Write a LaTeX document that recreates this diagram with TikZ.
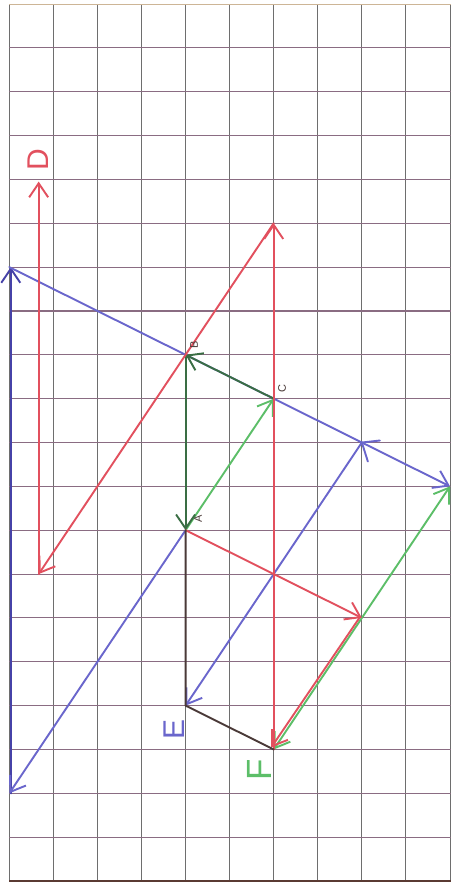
\documentclass[tikz,border=0pt]{standalone}
\usepackage{fontspec}
\setmainfont{Liberation Sans}
\usetikzlibrary{arrows.meta}
\definecolor{gridv}{HTML}{6E6E6E}
\definecolor{gridh}{HTML}{8A6C82}
\definecolor{gridtop}{HTML}{CDB596}
\definecolor{gridbot}{HTML}{5A3A32}
\definecolor{penred}{HTML}{E2505E}
\definecolor{penblue}{HTML}{6A66CC}
\definecolor{pendblue}{HTML}{4642A8}
\definecolor{pengreen}{HTML}{5CBE68}
\definecolor{pendgreen}{HTML}{3A6E44}
\definecolor{penblack}{HTML}{4A3A38}
\begin{document}
\begin{tikzpicture}[x=1pt,y=-1pt,
  pen/.style={line width=1.9pt, line cap=round, line join=round},
  tip/.style={-{Straight Barb[length=14pt,width=19pt]}},
  tiptwo/.style={{Straight Barb[length=14pt,width=19pt]}-{Straight Barb[length=14pt,width=19pt]}},
  lab/.style={rotate=90, inner sep=0pt, font=\fontsize{30}{30}\selectfont},
  smalllab/.style={rotate=90, inner sep=0pt, font=\fontsize{11}{11}\selectfont, text=penblack}]
\useasboundingbox[fill=white] (0,0) rectangle (450,886);
\begin{scope}[shift={(9.3pt,-4pt)}, x=44.07pt, y=-43.85pt]
  % grid
  \foreach \i in {0,...,10} \draw[gridv, line width=1pt] (\i,0) -- (\i,20);
  \draw[gridtop, line width=0.8pt] (0,0) -- (10.3,0);
  \foreach \j in {1,...,19} \draw[gridh, line width=1.1pt] (0,\j) -- (10.3,\j);
  \draw[gridbot, line width=2pt] (0,20) -- (10.3,20);
  % points
  \coordinate (P6) at (0,6);
  \coordinate (P18) at (0,18);
  \coordinate (B) at (4,8);
  \coordinate (C) at (6,9);
  \coordinate (A) at (4,12);
  \coordinate (E) at (4,16);
  \coordinate (F) at (6,17);
  \coordinate (Q) at (8,10);
  \coordinate (R) at (10,11);
  \coordinate (S) at (8,14);
  \coordinate (T) at (6,5);
  \coordinate (Db) at (2/3,13);
  \coordinate (Dt) at (2/3,4.05);
\end{scope}
% blue vectors
\draw[pen, pendblue, tip] ([xshift=1.5pt]P18) -- ([xshift=1.5pt]P6);
\draw[pen, penblue, tip] (P6) -- (R);
\draw[pen, penblue, tip] (A) -- (P18);
\draw[pen, penblue, tip] (Q) -- (E);
\draw[pen, penblue] ([shift={(18pt,2pt)}]Q) -- (Q) -- ([shift={(6pt,-19pt)}]Q);
% green vectors
\draw[pen, pengreen, tip] (A) -- (C);
\draw[pen, pendgreen, tip] (C) -- (B);
\draw[pen, pendgreen, tip] (B) -- (A);
\draw[pen, pengreen, tiptwo] (R) -- (F);
% red vectors
\draw[pen, penred, tip] (T) -- (Db);
\draw[pen, penred, tip] (Db) -- (Dt);
\draw[pen, penred, tip] (F) -- (T);
\draw[pen, penred, tip] (A) -- (S);
\draw[pen, penred, tip] ([xshift=-2.5pt]S) -- ([xshift=-2.5pt,yshift=2pt]F);
% black
\draw[pen, penblack] (A) -- (E) -- (F);
% labels
\node[lab, text=penred] (labD) at (38,160) {D};
\node[lab, text=penblue] (labE) at (174,729) {E};
\node[lab, text=pengreen, font=\fontsize{35}{35}\selectfont] (labF) at (259,770) {F};
\node[smalllab] (labB) at (194,345) {B};
\node[smalllab] (labC) at (282,389) {C};
\node[smalllab] (labA) at (198,519) {A};
\end{tikzpicture}
\end{document}
